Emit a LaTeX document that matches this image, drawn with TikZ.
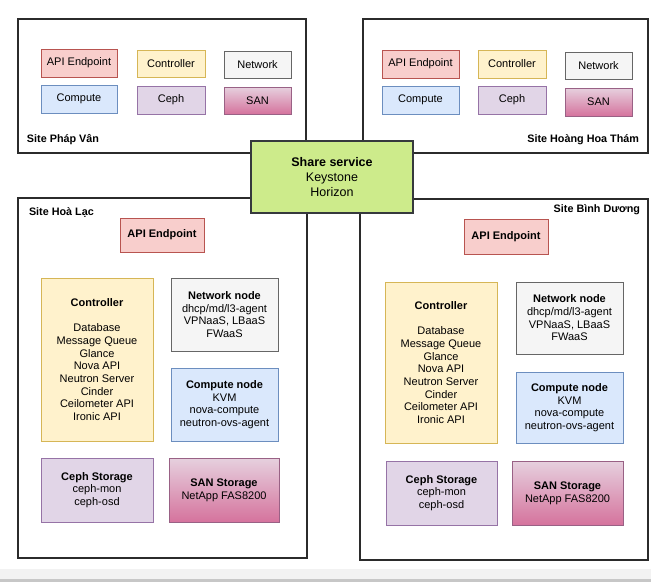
\documentclass[tikz,border=0pt]{standalone}
\usepackage{fontspec}
\setmainfont{Liberation Sans}
\definecolor{apiF}{HTML}{F8CECC}\definecolor{apiD}{HTML}{B85450}
\definecolor{ctlF}{HTML}{FFF2CC}\definecolor{ctlD}{HTML}{D6B656}
\definecolor{netF}{HTML}{F5F5F5}\definecolor{netD}{HTML}{666666}
\definecolor{cmpF}{HTML}{DAE8FC}\definecolor{cmpD}{HTML}{6C8EBF}
\definecolor{cphF}{HTML}{E1D5E7}\definecolor{cphD}{HTML}{9673A6}
\definecolor{sanT}{HTML}{E6D0DE}\definecolor{sanB}{HTML}{D5739D}\definecolor{sanD}{HTML}{996185}
\definecolor{shF}{HTML}{CDEB8B}\definecolor{shD}{HTML}{36393D}
\definecolor{siteD}{HTML}{2B2B2B}
\newcommand{\bx}[7]{\node[#2, minimum width={#5pt-#3pt}, minimum height={#6pt-#4pt}] (#1) at ({(#3+#5)/2},{(#4+#6)/2}) {#7};}
\begin{document}
\begin{tikzpicture}[x=1pt,y=-1pt,
  every node/.style={inner sep=0pt, outer sep=0pt, align=center, font=\fontsize{11}{12.65}\selectfont},
  box/.style={line width=1pt},
  apibox/.style={box, draw=apiD, fill=apiF},
  ctlbox/.style={box, draw=ctlD, fill=ctlF},
  netbox/.style={box, draw=netD, fill=netF},
  cmpbox/.style={box, draw=cmpD, fill=cmpF},
  cphbox/.style={box, draw=cphD, fill=cphF},
  sanbox/.style={box, draw=sanD, top color=sanT, bottom color=sanB},
  sitebox/.style={draw=siteD, fill=white, line width=1.6pt},
  sitelabel/.style={font=\fontsize{10.8}{12.4}\selectfont\bfseries},
  sharebox/.style={draw=shD, fill=shF, line width=1.2pt, font=\fontsize{12.5}{15}\selectfont}
]
\useasboundingbox (0,0) rectangle (651,582);
\fill[white] (0,0) rectangle (651,582);
\fill[black!5] (0,569) rectangle (651,579);
\fill[black!22] (0,579) rectangle (651,582);

% sites
\bx{pv}{sitebox}{18}{19}{306}{153}{}
\bx{hht}{sitebox}{363}{19}{648}{153}{}
\bx{hl}{sitebox}{18}{198}{307}{558}{}
\bx{bd}{sitebox}{360}{199}{648}{560}{}

\node[sitelabel, anchor=west] (pvl) at (27,140) {Site Pháp Vân};
\node[sitelabel, anchor=east] (hhtl) at (639,140) {Site Hoàng Hoa Thám};
\node[sitelabel, anchor=west] (hll) at (29,212) {Site Hoà Lạc};
\node[sitelabel, anchor=east] (bdl) at (640,210) {Site Bình Dương};

% Site Phap Van
\bx{pvapi}{apibox}{41}{49}{117}{77}{API Endpoint}
\bx{pvctl}{ctlbox}{137}{50}{205}{77}{Controller}
\bx{pvnet}{netbox}{224}{51}{291}{78}{Network}
\bx{pvcmp}{cmpbox}{41}{85}{117}{113}{Compute}
\bx{pvcph}{cphbox}{137}{86}{205}{114}{Ceph}
\bx{pvsan}{sanbox}{224}{87}{291}{114}{SAN}

% Site Hoang Hoa Tham
\bx{hapi}{apibox}{382}{50}{459}{78}{API Endpoint}
\bx{hctl}{ctlbox}{478}{50}{546}{78}{Controller}
\bx{hnet}{netbox}{565}{52}{632}{79}{Network}
\bx{hcmp}{cmpbox}{382}{86}{459}{114}{Compute}
\bx{hcph}{cphbox}{478}{86}{546}{114}{Ceph}
\bx{hsan}{sanbox}{565}{88}{632}{116}{SAN}

% Site Hoa Lac
\bx{lapi}{apibox}{120}{218}{204}{252}{\textbf{API Endpoint}}
\bx{lctl}{ctlbox}{41}{278}{153}{441}{\textbf{Controller}\\[12.65pt]Database\\Message Queue\\Glance\\Nova API\\Neutron Server\\Cinder\\Ceilometer API\\Ironic API}
\bx{lnet}{netbox}{171}{278}{278}{351}{\textbf{Network node}\\dhcp/md/l3-agent\\VPNaaS, LBaaS\\FWaaS}
\bx{lcmp}{cmpbox}{171}{368}{278}{441}{\textbf{Compute node}\\KVM\\nova-compute\\neutron-ovs-agent}
\bx{lcph}{cphbox}{41}{458}{153}{522}{\textbf{Ceph Storage}\\ceph-mon\\ceph-osd}
\bx{lsan}{sanbox}{169}{458}{279}{522}{\textbf{SAN Storage}\\NetApp FAS8200}

% Site Binh Duong
\bx{bapi}{apibox}{464}{219}{548}{254}{\textbf{API Endpoint}}
\bx{bctl}{ctlbox}{385}{282}{497}{443}{\textbf{Controller}\\[12.65pt]Database\\Message Queue\\Glance\\Nova API\\Neutron Server\\Cinder\\Ceilometer API\\Ironic API}
\bx{bnet}{netbox}{516}{282}{623}{354}{\textbf{Network node}\\dhcp/md/l3-agent\\VPNaaS, LBaaS\\FWaaS}
\bx{bcmp}{cmpbox}{516}{372}{623}{443}{\textbf{Compute node}\\KVM\\nova-compute\\neutron-ovs-agent}
\bx{bcph}{cphbox}{386}{461}{497}{525}{\textbf{Ceph Storage}\\ceph-mon\\ceph-osd}
\bx{bsan}{sanbox}{512}{461}{623}{525}{\textbf{SAN Storage}\\NetApp FAS8200}

% Share service
\bx{share}{sharebox}{251}{141}{413}{213}{\textbf{Share service}\\Keystone\\Horizon}
\end{tikzpicture}
\end{document}
